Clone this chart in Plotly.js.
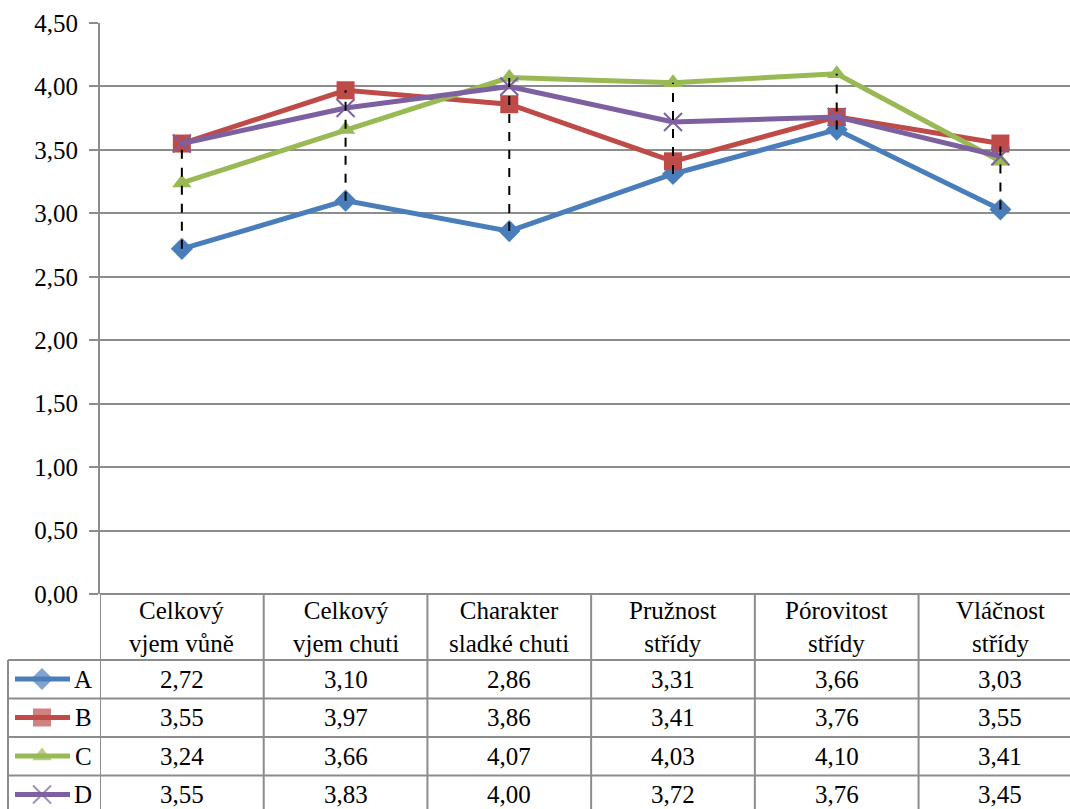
<!DOCTYPE html>
<html><head><meta charset="utf-8">
<script src="https://cdn.plot.ly/plotly-3.0.1.min.js"></script>
<style>html,body{margin:0;padding:0;background:#fff}</style>
</head><body>
<div id="chart" style="width:1070px;height:809px"></div>
<script>
const categories = ["Celkový<br>vjem vůně","Celkový<br>vjem chuti","Charakter<br>sladké chuti","Pružnost<br>střídy","Pórovitost<br>střídy","Vláčnost<br>střídy"];
const seriesNames = ["A","B","C","D"];
const valuesA = [2.72,3.10,2.86,3.31,3.66,3.03];
const valuesB = [3.55,3.97,3.86,3.41,3.76,3.55];
const valuesC = [3.24,3.66,4.07,4.03,4.10,3.41];
const valuesD = [3.55,3.83,4.00,3.72,3.76,3.45];
const yTicks = [0,0.5,1,1.5,2,2.5,3,3.5,4,4.5];

const allValues = [valuesA,valuesB,valuesC,valuesD];
const colors = ["#4A7EBB","#BE4B48","#98B954","#7D60A0"];
const symbols = ["diamond","square","triangle-up","x-thin-open"];
const msizes = [17,18,17,18];
const W=1070,H=809;
const plotL=100, plotT=23, plotB=594;
const fontSpec = {family:'"Liberation Serif", "Times New Roman", serif', size:25, color:"#000"};
const grid = "#8c8c8c";
const idx = categories.map((_,i)=>i);
const F = ()=>Object.assign({},fontSpec);

const traces = [];
allValues.forEach((vals,s)=>{
  traces.push({x:idx,y:vals,type:"scatter",mode:"lines+markers",name:seriesNames[s],
    line:{color:colors[s],width:5},
    marker:{symbol:symbols[s],size:msizes[s],color:colors[s],line:{color:colors[s],width:s===3?2:0}},
    xaxis:"x",yaxis:"y",hoverinfo:"skip",showlegend:false});
});
// high-low lines
const hlx=[],hly=[];
idx.forEach(i=>{
  const col = allValues.map(v=>v[i]);
  hlx.push(i,i,null); hly.push(Math.min(...col),Math.max(...col),null);
});
traces.push({x:hlx,y:hly,type:"scatter",mode:"lines",line:{color:"#000",width:2,dash:"dash"},
  showlegend:false,hoverinfo:"skip",xaxis:"x",yaxis:"y"});
// legend keys inside the data table
seriesNames.forEach((n,s)=>{
  traces.push({x:[15,42,70],y:[s,s,s],type:"scatter",mode:"lines+markers",
    line:{color:colors[s],width:5},
    marker:{symbol:symbols[s],size:[0,msizes[s],0],color:colors[s],line:{color:colors[s],width:s===3?2:0}},
    xaxis:"x2",yaxis:"y2",showlegend:false,hoverinfo:"skip"});
});

const shapes=[];
const tableTop = (H-plotB)/H;
for(let i=-1;i<=5;i++){
  shapes.push({type:"line",xref:"x",yref:"paper",x0:i+0.5,x1:i+0.5,y0:0,y1:tableTop,line:{color:grid,width:2}});
}
const rowLines=[660,698.5,737,775.5];
rowLines.forEach(py=>{
  shapes.push({type:"line",xref:"paper",yref:"paper",x0:8/W,x1:1,y0:1-py/H,y1:1-py/H,line:{color:grid,width:2}});
});
shapes.push({type:"line",xref:"paper",yref:"paper",x0:8/W,x1:8/W,y0:0,y1:1-660/H,line:{color:grid,width:2}});
shapes.push({type:"line",xref:"paper",yref:"paper",x0:plotL/W,x1:1,y0:tableTop,y1:tableTop,line:{color:grid,width:2}});

const annotations=[];
categories.forEach((c,i)=>{
  annotations.push({x:i,xref:"x",y:1-627/H,yref:"paper",text:c,showarrow:false,font:F(),align:"center",yanchor:"middle"});
});
const rowCenters=[679,717.5,756,794];
allValues.forEach((vals,s)=>{
  vals.forEach((v,i)=>{
    annotations.push({x:i,xref:"x",y:1-rowCenters[s]/H,yref:"paper",text:v.toFixed(2).replace(".",","),
      showarrow:false,font:F(),yanchor:"middle"});
  });
  annotations.push({x:83,xref:"x2",y:s,yref:"y2",text:seriesNames[s],showarrow:false,font:F(),yanchor:"middle"});
});

const layout={
  width:W,height:H,margin:{l:0,r:0,t:0,b:0},paper_bgcolor:"#fff",plot_bgcolor:"#fff",
  font:F(),separators:", ",showlegend:false,
  xaxis:{domain:[plotL/W,1],range:[-0.5,5.425],showticklabels:false,showgrid:false,zeroline:false,showline:false,ticks:"",fixedrange:true},
  yaxis:{domain:[(H-plotB)/H,(H-plotT)/H],range:[0,4.5],tickvals:yTicks,tickformat:".2f",
    showgrid:true,gridcolor:grid,gridwidth:2,zeroline:false,showline:true,linecolor:grid,linewidth:2,
    ticks:"outside",ticklen:9,tickcolor:grid,tickwidth:2,ticklabelstandoff:6,tickfont:F()},
  xaxis2:{domain:[0,plotL/W],range:[0,100],visible:false,fixedrange:true,anchor:"y2"},
  yaxis2:{domain:[0,(H-660)/H],range:[(809-679)/38.5,(660-679)/38.5],visible:false,anchor:"x2"},
  shapes:shapes,annotations:annotations
};
Plotly.newPlot("chart",traces,layout,{staticPlot:true,displayModeBar:false});
</script>
</body></html>
